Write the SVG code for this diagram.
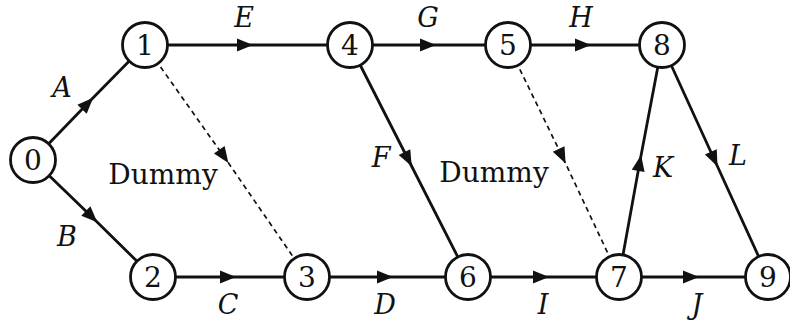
<svg xmlns="http://www.w3.org/2000/svg" width="790" height="320" viewBox="0 0 790 320">
<style>
.e{fill:none;stroke:#111;stroke-width:2.8;marker-mid:url(#ah)}
.d{fill:none;stroke:#111;stroke-width:1.7;stroke-dasharray:5,4;marker-mid:url(#ah)}
.n circle{fill:#fff;stroke:#111;stroke-width:2.8}
.n text{font-family:"DejaVu Serif","Liberation Serif",serif;font-size:28px;fill:#111;text-anchor:middle}
.l{font-family:"DejaVu Serif","Liberation Serif",serif;font-style:italic;font-size:27px;fill:#111;text-anchor:middle}
.t{font-family:"DejaVu Serif","Liberation Serif",serif;font-size:28px;fill:#111;text-anchor:middle}
</style>
<defs>
<marker id="ah" markerUnits="userSpaceOnUse" markerWidth="30" markerHeight="30" viewBox="-15 -15 30 30" refX="0" refY="0" orient="auto">
<path d="M-10,-6.5 L6,0 L-10,6.5 Z" fill="#111"/>
</marker>
</defs>
<g id="connectors">
<path class="e" d="M33,160 L89,102 L145,45"/>
<path class="e" d="M33,160 L93,218 L153,277"/>
<path class="e" d="M145,45 L247,45 L350,45"/>
<path class="e" d="M350,45 L430,45 L508,45"/>
<path class="e" d="M508,45 L585,45 L662,45"/>
<path class="e" d="M153,277 L230,277 L307,277"/>
<path class="e" d="M307,277 L387,277 L468,277"/>
<path class="e" d="M468,277 L543,277 L619,277"/>
<path class="e" d="M619,277 L693,277 L768,277"/>
<path class="e" d="M350,45 L409,161 L468,277"/>
<path class="e" d="M619,277 L640,161 L662,45"/>
<path class="e" d="M662,45 L715,161 L768,277"/>
<path class="d" d="M145,45 L225,158 L307,277"/>
<path class="d" d="M508,45 L563,158 L619,277"/>
</g>
<g id="n0" class="n"><circle cx="33" cy="160" r="22.5"/><text x="33" y="170">0</text></g>
<g id="n1" class="n"><circle cx="145" cy="45" r="22.5"/><text x="145" y="55">1</text></g>
<g id="n2" class="n"><circle cx="153" cy="277" r="22.5"/><text x="153" y="287">2</text></g>
<g id="n3" class="n"><circle cx="307" cy="277" r="22.5"/><text x="307" y="287">3</text></g>
<g id="n4" class="n"><circle cx="350" cy="45" r="22.5"/><text x="350" y="55">4</text></g>
<g id="n5" class="n"><circle cx="508" cy="45" r="22.5"/><text x="508" y="55">5</text></g>
<g id="n6" class="n"><circle cx="468" cy="277" r="22.5"/><text x="468" y="287">6</text></g>
<g id="n7" class="n"><circle cx="619" cy="277" r="22.5"/><text x="619" y="287">7</text></g>
<g id="n8" class="n"><circle cx="662" cy="45" r="22.5"/><text x="662" y="55">8</text></g>
<g id="n9" class="n"><circle cx="768" cy="277" r="22.5"/><text x="768" y="287">9</text></g>
<g id="labels">
<text class="l" x="62" y="97">A</text>
<text class="l" x="67" y="246">B</text>
<text class="l" x="228" y="314">C</text>
<text class="l" x="385" y="314">D</text>
<text class="l" x="244" y="27">E</text>
<text class="l" x="381" y="167">F</text>
<text class="l" x="428" y="27">G</text>
<text class="l" x="581" y="27">H</text>
<text class="l" x="543" y="314">I</text>
<text class="l" x="697" y="314">J</text>
<text class="l" x="663" y="177">K</text>
<text class="l" x="738" y="165">L</text>
<text class="t" x="163" y="184">Dummy</text>
<text class="t" x="494" y="182">Dummy</text>
</g>
</svg>
